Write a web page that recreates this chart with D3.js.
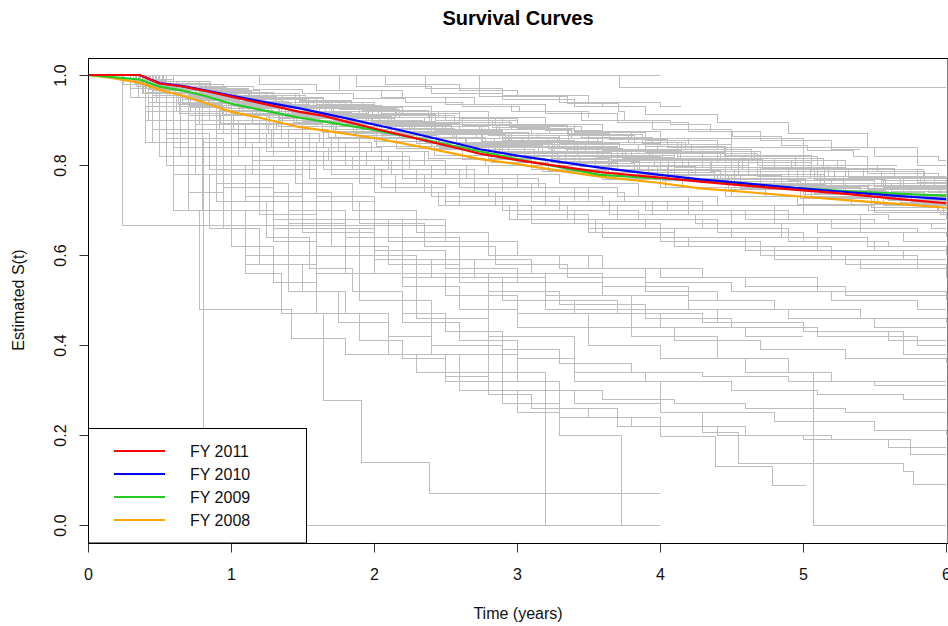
<!DOCTYPE html>
<html>
<head>
<meta charset="utf-8">
<script src="https://cdn.jsdelivr.net/npm/d3@7"></script>
<style>
  body { margin: 0; background: #fff; }
  svg { font-family: 'Liberation Sans', Arial, sans-serif; }
</style>
</head>
<body>
<div id="chart"></div>
<script>
// ---- data: survival estimates [time (years), S(t)] ----
const upperCurves = [
  [[0,1],[0.38,.985],[0.62,.97],[0.95,.955],[1.3,.94],[1.7,.925],[2.15,.905],[2.6,.89],[3.1,.87],[3.6,.85],[4.15,.83],[4.7,.81],[5.3,.79],[5.8,.775],[6,.775]],
  [[0,1],[0.42,.98],[0.7,.962],[1.05,.945],[1.45,.925],[1.9,.905],[2.35,.885],[2.8,.865],[3.3,.845],[3.85,.825],[4.4,.805],[5.0,.785],[5.55,.765],[6,.765]],
  [[0,1],[0.35,.99],[0.55,.975],[0.9,.96],[1.25,.948],[1.65,.932],[2.05,.915],[2.5,.9],[2.95,.885],[3.45,.862],[3.95,.845],[4.5,.82],[5.1,.8]],
  [[0,1],[0.48,.978],[0.75,.958],[1.1,.94],[1.5,.918],[1.95,.895],[2.4,.875],[2.9,.852],[3.4,.83],[3.95,.81],[4.55,.79],[5.15,.77],[5.7,.745],[6,.745]],
  [[0,1],[0.4,.975],[0.65,.955],[1.0,.935],[1.35,.915],[1.8,.892],[2.25,.87],[2.75,.848],[3.25,.826],[3.8,.805],[4.35,.785],[4.9,.765],[5.5,.745],[6,.74]],
  [[0,1],[0.5,.982],[0.85,.965],[1.2,.95],[1.6,.935],[2.0,.92],[2.45,.905],[2.9,.89],[3.4,.872],[3.9,.855],[4.4,.835],[4.6,.835]],
  [[0,1],[0.44,.972],[0.72,.95],[1.02,.93],[1.38,.908],[1.78,.885],[2.2,.862],[2.65,.84],[3.15,.818],[3.7,.796],[4.25,.776],[4.85,.755],[5.45,.735],[6,.725]],
  [[0,1],[0.36,.978],[0.6,.958],[0.92,.938],[1.28,.915],[1.7,.89],[2.12,.868],[2.58,.845],[3.05,.822],[3.55,.8],[4.1,.778],[4.7,.758],[5.3,.738],[5.85,.72],[6,.72]],
  [[0,1],[0.46,.985],[0.78,.97],[1.12,.955],[1.52,.94],[1.92,.922],[2.38,.905],[2.85,.888],[3.35,.868],[3.88,.848],[4.0,.848]],
  [[0,1],[0.41,.97],[0.68,.948],[0.98,.926],[1.34,.903],[1.74,.88],[2.18,.858],[2.64,.835],[3.12,.812],[3.64,.79],[4.2,.77],[4.8,.75],[5.4,.73],[6,.71]],
  [[0,1],[0.52,.975],[0.82,.955],[1.15,.935],[1.55,.912],[1.98,.89],[2.42,.868],[2.92,.845],[3.42,.822],[3.96,.8],[4.55,.778],[5.15,.755],[5.75,.735],[6,.735]],
  [[0,1],[0.33,.982],[0.58,.965],[0.88,.948],[1.22,.93],[1.62,.91],[2.04,.89],[2.48,.87],[2.96,.85],[3.48,.83],[4.02,.81],[4.62,.79],[5.22,.77],[5.82,.755],[6,.755]],
  [[0,1],[0.45,.968],[0.74,.944],[1.06,.92],[1.44,.895],[1.86,.87],[2.3,.848],[2.78,.825],[3.28,.804],[3.82,.784],[4.38,.764],[4.98,.744],[5.58,.724],[6,.705]],
  [[0,1],[0.39,.98],[0.66,.962],[1.0,.942],[1.4,.92],[1.82,.898],[2.26,.878],[2.72,.858],[3.22,.836],[3.74,.815],[4.3,.795],[4.9,.775],[5.5,.758],[6,.75]],
  [[0,1],[0.55,.972],[0.88,.95],[1.24,.928],[1.66,.905],[2.1,.882],[2.56,.86],[3.04,.838],[3.56,.816],[4.1,.795],[4.68,.775],[5.28,.755],[5.88,.738],[6,.738]],
  [[0,1],[0.3,.99],[0.52,.978],[0.8,.963],[1.14,.947],[1.54,.93],[1.96,.912],[2.4,.895],[2.88,.878],[3.38,.86],[3.9,.842],[4.46,.822],[5.06,.8],[5.66,.8]],
  [[0,1],[0.47,.965],[0.76,.94],[1.08,.915],[1.46,.89],[1.88,.865],[2.32,.842],[2.8,.82],[3.3,.8],[3.84,.78],[4.4,.76],[5.0,.742],[5.6,.722],[6,.71]],
  [[0,1],[0.43,.977],[0.71,.957],[1.04,.937],[1.42,.916],[1.84,.894],[2.28,.873],[2.76,.852],[3.26,.831],[3.8,.81],[4.36,.79],[4.96,.77],[5.56,.75],[6,.73]],
  [[0,1],[0.37,.985],[0.63,.968],[0.96,.95],[1.32,.932],[1.72,.912],[2.14,.892],[2.6,.872],[3.08,.852],[3.6,.832],[4.14,.812],[4.72,.792],[5.32,.772],[5.92,.76],[6,.76]],
  [[0,1],[0.5,.97],[0.8,.945],[1.13,.92],[1.5,.896],[1.92,.872],[2.36,.85],[2.84,.828],[3.34,.807],[3.86,.787],[4.42,.767],[5.02,.748],[5.62,.73],[6,.72]],
  [[0,1],[0.34,.975],[0.57,.955],[0.87,.933],[1.2,.91],[1.6,.886],[2.02,.862],[2.46,.84],[2.94,.818],[3.44,.797],[3.98,.777],[4.56,.757],[5.16,.737],[5.76,.718],[6,.7]],
  [[0,1],[0.49,.98],[0.79,.963],[1.13,.946],[1.53,.928],[1.95,.91],[2.39,.89],[2.86,.87],[3.36,.85],[3.9,.828],[4.46,.806],[5.06,.785],[5.36,.785]],
  [[0,1],[0.4,.962],[0.66,.936],[0.97,.91],[1.33,.885],[1.73,.86],[2.16,.836],[2.62,.813],[3.1,.79],[3.62,.77],[4.16,.75],[4.74,.73],[5.34,.712],[5.94,.695],[6,.695]],
  [[0,1],[0.44,.985],[0.7,.97],[1.0,.955],[1.36,.94],[1.76,.923],[2.18,.906],[2.62,.888],[3.1,.87],[3.6,.85],[4.12,.83],[4.66,.81],[5.24,.79],[5.84,.77],[6,.77]],
  [[0,1],[0.53,.965],[0.84,.94],[1.18,.915],[1.58,.89],[2.0,.866],[2.44,.843],[2.9,.82],[3.4,.798],[3.92,.777],[4.48,.756],[5.08,.736],[5.68,.716],[6,.705]],
  [[0,1],[0.32,.988],[0.54,.972],[0.84,.955],[1.18,.938],[1.58,.918],[1.99,.897],[2.43,.876],[2.9,.855],[3.4,.834],[3.93,.812],[4.5,.79],[5.1,.77],[5.7,.75],[6,.745]]
]

const denseCurves = [
  [[0,1],[0.4,.98],[0.7,.965],[1.0,.95],[1.35,.93],[1.7,.92],[2.05,.905],[2.4,.89],[2.75,.878],[3.1,.865],[3.5,.85],[3.9,.835],[4.3,.815],[4.8,.795],[5.3,.775],[5.8,.762],[6,.762]],
  [[0,1],[0.45,.975],[0.72,.958],[1.02,.94],[1.4,.918],[1.75,.9],[2.1,.886],[2.5,.87],[2.9,.855],[3.3,.84],[3.7,.822],[4.1,.806],[4.55,.785],[5.0,.77],[5.5,.752],[5.95,.74],[6,.74]],
  [[0,1],[0.36,.99],[0.6,.978],[0.95,.962],[1.3,.95],[1.65,.94],[2.0,.93],[2.4,.918],[2.8,.905],[3.2,.89],[3.6,.875],[4.0,.86],[4.5,.84],[5.0,.82]],
  [[0,1],[0.5,.965],[0.78,.948],[1.05,.928],[1.4,.91],[1.8,.892],[2.15,.875],[2.55,.86],[2.95,.842],[3.35,.826],[3.8,.81],[4.2,.795],[4.7,.77],[5.2,.748],[5.7,.73],[6,.72]],
  [[0,1],[0.42,.97],[0.66,.945],[0.98,.922],[1.3,.905],[1.7,.885],[2.05,.868],[2.45,.85],[2.85,.83],[3.25,.814],[3.65,.797],[4.05,.78],[4.5,.758],[5.0,.735],[5.5,.715],[5.95,.7],[6,.7]],
  [[0,1],[0.38,.982],[0.64,.968],[0.97,.952],[1.32,.94],[1.68,.928],[2.02,.918],[2.4,.905],[2.8,.89],[3.2,.876],[3.6,.86],[4.0,.842],[4.45,.822],[4.95,.8],[5.45,.782],[5.95,.77],[6,.77]],
  [[0,1],[0.47,.972],[0.74,.955],[1.04,.938],[1.4,.92],[1.76,.908],[2.12,.895],[2.5,.88],[2.9,.865],[3.3,.85],[3.72,.835],[4.12,.818],[4.58,.795],[5.08,.77],[5.58,.748],[6,.73]],
  [[0,1],[0.4,.96],[0.63,.935],[0.94,.912],[1.27,.893],[1.64,.872],[2.0,.852],[2.4,.835],[2.8,.815],[3.2,.8],[3.62,.783],[4.02,.765],[4.48,.745],[4.98,.725],[5.48,.705],[5.98,.69],[6,.69]],
  [[0,1],[0.52,.98],[0.83,.968],[1.12,.958],[1.48,.943],[1.84,.93],[2.2,.918],[2.6,.903],[3.0,.89],[3.4,.875],[3.8,.86],[4.2,.845],[4.5,.845]],
  [[0,1],[0.44,.972],[0.7,.952],[1.0,.932],[1.35,.915],[1.72,.9],[2.08,.888],[2.48,.872],[2.88,.858],[3.28,.842],[3.7,.826],[4.1,.81],[4.55,.79],[5.05,.77],[5.55,.752],[6,.74]],
  [[0,1],[0.48,.955],[0.72,.928],[1.0,.9],[1.32,.88],[1.68,.862],[2.02,.842],[2.42,.822],[2.82,.805],[3.22,.788],[3.64,.77],[4.04,.75],[4.5,.73],[5.0,.71],[5.5,.695],[6,.68]],
  [[0,1],[0.34,.985],[0.58,.968],[0.9,.95],[1.24,.93],[1.6,.915],[1.96,.9],[2.34,.885],[2.74,.87],[3.14,.858],[3.56,.845],[3.98,.83],[4.42,.81],[4.92,.79],[5.42,.77],[5.92,.75],[6,.75]],
  [[0,1],[0.46,.962],[0.7,.94],[1.0,.92],[1.34,.9],[1.7,.88],[2.06,.86],[2.44,.842],[2.84,.822],[3.24,.806],[3.66,.788],[4.06,.77],[4.52,.75],[5.02,.73],[5.52,.712],[6,.7]],
  [[0,1],[0.55,.985],[0.86,.975],[1.16,.968],[1.5,.958],[1.86,.948],[2.22,.94],[2.62,.93],[3.02,.918],[3.5,.905]],
  [[0,1],[0.43,.968],[0.68,.95],[0.99,.94],[1.33,.915],[1.7,.895],[2.04,.88],[2.44,.86],[2.84,.842],[3.24,.828],[3.66,.81],[4.06,.79],[4.52,.77],[5.02,.748],[5.52,.728],[6,.71]],
  [[0,1],[0.37,.975],[0.61,.955],[0.93,.932],[1.26,.912],[1.62,.895],[1.98,.875],[2.38,.858],[2.78,.843],[3.18,.83],[3.6,.812],[4.0,.79],[4.46,.77],[4.96,.752],[5.46,.735],[5.96,.72],[6,.72]],
  [[0,1],[0.5,.978],[0.8,.965],[1.1,.958],[1.45,.94],[1.8,.925],[2.16,.91],[2.56,.895],[2.96,.878],[3.36,.865],[3.78,.85],[4.18,.835],[4.64,.815],[5.14,.792],[5.64,.772],[6,.76]],
  [[0,1],[0.45,.955],[0.7,.932],[1.0,.91],[1.36,.89],[1.72,.875],[2.08,.858],[2.48,.84],[2.88,.822],[3.28,.805],[3.7,.787],[4.1,.768],[4.56,.748],[5.06,.728],[5.56,.71],[6,.7]],
  [[0,1],[0.41,.985],[0.66,.972],[0.97,.955],[1.31,.94],[1.67,.925],[2.03,.912],[2.43,.898],[2.83,.884],[3.23,.87],[3.65,.856],[4.05,.84],[4.5,.82],[5.0,.8],[5.5,.8]],
  [[0,1],[0.49,.968],[0.76,.952],[1.06,.937],[1.42,.918],[1.78,.903],[2.14,.888],[2.54,.87],[2.94,.85],[3.34,.835],[3.76,.815],[4.16,.8],[4.62,.78],[5.12,.76],[5.62,.742],[6,.73]],
  [[0,1],[0.39,.96],[0.62,.94],[0.92,.922],[1.26,.905],[1.62,.89],[1.98,.878],[2.38,.862],[2.78,.85],[3.18,.838],[3.6,.82],[4.0,.8],[4.46,.78],[4.96,.76],[5.46,.745],[5.96,.73],[6,.73]],
  [[0,1],[0.42,.94],[0.64,.915],[0.93,.892],[1.26,.87],[1.62,.85],[1.98,.83],[2.38,.815],[2.78,.8],[3.18,.785],[3.6,.768],[4.0,.75],[4.46,.73],[4.96,.712],[5.46,.7],[5.96,.69],[6,.69]],
  [[0,1],[0.53,.982],[0.82,.968],[1.12,.958],[1.48,.942],[1.84,.928],[2.2,.915],[2.6,.9],[3.0,.882],[3.4,.865],[3.82,.845],[4.22,.825],[4.68,.8],[5.18,.775],[5.68,.755],[6,.75]],
  [[0,1],[0.46,.965],[0.72,.948],[1.02,.93],[1.38,.918],[1.74,.905],[2.1,.895],[2.5,.878],[2.9,.862],[3.3,.847],[3.72,.83],[4.12,.812],[4.58,.79],[5.08,.768],[5.58,.75],[6,.74]]
]

const midCurves = [
  [[0,1],[0.45,.95],[0.7,.91],[1.0,.88],[1.4,.84],[1.8,.8],[2.2,.77],[2.7,.74],[3.2,.71],[3.7,.68],[4.3,.66],[4.9,.63],[5.5,.61],[6,.6]],
  [[0,1],[0.4,.96],[0.65,.93],[0.95,.9],[1.3,.86],[1.7,.82],[2.1,.79],[2.6,.76],[3.1,.73],[3.6,.71],[4.2,.69],[4.8,.67],[5.4,.65],[6,.64]],
  [[0,1],[0.5,.93],[0.8,.88],[1.1,.84],[1.5,.8],[1.9,.76],[2.4,.73],[2.9,.7],[3.4,.67],[4.0,.64],[4.6,.62],[5.2,.6],[5.8,.58],[6,.58]],
  [[0,1],[0.45,.94],[0.75,.9],[1.05,.86],[1.45,.82],[1.85,.79],[2.3,.76],[2.8,.73],[3.3,.7],[3.85,.68],[4.4,.65],[5.0,.63],[5.6,.62],[6,.62]],
  [[0,1],[0.35,.97],[0.6,.94],[0.9,.91],[1.25,.88],[1.65,.84],[2.05,.81],[2.5,.78],[3.0,.75],[3.5,.72],[4.05,.7],[4.6,.68],[5.2,.66],[5.8,.65],[6,.65]],
  [[0,1],[0.5,.95],[0.85,.9],[1.2,.85],[1.6,.8],[2.0,.76],[2.5,.72],[3.0,.69],[3.5,.66],[4.1,.63],[4.7,.6],[5.3,.58],[6,.56]],
  [[0,1],[0.42,.95],[0.72,.92],[1.02,.88],[1.4,.85],[1.8,.82],[2.25,.79],[2.7,.76],[3.2,.74],[3.75,.72],[4.3,.7],[4.9,.68],[5.5,.67],[6,.67]],
  [[0,1],[0.55,.92],[0.9,.87],[1.25,.83],[1.65,.79],[2.05,.75],[2.5,.71],[3.0,.68],[3.55,.65],[4.1,.62],[4.7,.6],[5.2,.6]],
  [[0,1],[0.3,.97],[0.55,.93],[0.85,.9],[1.2,.87],[1.55,.83],[1.95,.8],[2.4,.77],[2.9,.75],[3.4,.72],[3.9,.7],[4.5,.67],[5.1,.65],[5.7,.63],[6,.63]],
  [[0,1],[0.48,.94],[0.78,.89],[1.1,.85],[1.5,.81],[1.9,.78],[2.35,.74],[2.85,.71],[3.35,.68],[3.9,.66],[4.5,.64],[5.1,.61],[5.7,.59],[6,.59]],
  [[0,1],[0.4,.96],[0.7,.92],[1.0,.89],[1.35,.86],[1.75,.83],[2.2,.8],[2.65,.77],[3.15,.75],[3.7,.73],[4.2,.71],[4.8,.69],[5.4,.67],[5.9,.66],[6,.66]],
  [[0,1],[0.5,.9],[0.8,.85],[1.15,.81],[1.55,.77],[2.0,.74],[2.45,.71],[2.95,.68],[3.5,.65],[4.0,.63],[4.6,.61],[5.2,.59],[5.8,.57],[6,.57]],
  [[0,1],[0.45,.93],[0.75,.89],[1.1,.86],[1.5,.83],[1.9,.8],[2.4,.77],[2.9,.74],[3.4,.72],[3.95,.69],[4.5,.67],[4.8,.67]],
  [[0,1],[0.38,.96],[0.62,.92],[0.92,.88],[1.28,.84],[1.68,.81],[2.12,.78],[2.6,.75],[3.1,.72],[3.65,.69],[4.25,.67],[4.85,.64],[5.45,.62],[6,.61]],
  [[0,1],[0.6,.92],[0.95,.87],[1.3,.82],[1.7,.78],[2.15,.74],[2.6,.71],[3.1,.67],[3.6,.64],[4.2,.62],[4.8,.59],[5.4,.57],[6,.55]],
  [[0,1],[0.25,.98],[0.5,.95],[0.8,.92],[1.15,.89],[1.5,.86],[1.9,.83],[2.35,.8],[2.8,.78],[3.3,.76],[3.85,.73],[4.4,.71],[5.0,.69],[5.6,.68],[6,.68]]
]

const lowCurves = [
  [[0,1],[0.45,.9],[0.7,.82],[1.0,.76],[1.4,.7],[1.8,.64],[2.2,.59],[2.7,.55],[3.2,.51],[3.8,.48],[4.4,.45],[5.0,.43],[5.6,.41],[6,.41]],
  [[0,1],[0.5,.88],[0.8,.8],[1.1,.73],[1.5,.66],[1.9,.6],[2.3,.56],[2.8,.52],[3.3,.49],[3.9,.46],[4.5,.44],[5.1,.42],[5.8,.4],[6,.4]],
  [[0,1],[0.4,.93],[0.65,.86],[0.95,.8],[1.3,.74],[1.7,.68],[2.1,.63],[2.6,.59],[3.1,.56],[3.6,.53],[4.2,.5],[4.8,.48],[5.4,.46],[6,.45]],
  [[0,1],[0.55,.86],[0.9,.76],[1.2,.69],[1.6,.62],[2.0,.56],[2.5,.51],[3.0,.47],[3.5,.44],[4.1,.41],[4.7,.39],[5.3,.37],[6,.36]],
  [[0,1],[0.45,.94],[0.75,.88],[1.05,.82],[1.45,.76],[1.85,.7],[2.3,.65],[2.8,.6],[3.3,.57],[3.9,.54],[4.5,.52],[5.2,.5],[5.8,.48],[6,.48]],
  [[0,1],[0.35,.95],[0.6,.9],[0.9,.84],[1.2,.79],[1.6,.73],[2.0,.68],[2.5,.63],[3.0,.6],[3.5,.57],[4.0,.55],[4.6,.53],[5.3,.51],[6,.51]],
  [[0,1],[0.5,.9],[0.75,.8],[1.1,.72],[1.5,.65],[2.0,.59],[2.4,.55],[2.9,.5],[3.4,.47],[4.0,.44],[4.6,.42],[5.0,.42]],
  [[0,1],[0.6,.84],[0.95,.75],[1.3,.68],[1.7,.62],[2.1,.58],[2.6,.54],[3.2,.5],[3.7,.47],[4.3,.45],[5.0,.43],[5.7,.38],[6,.38]],
  [[0,1],[0.45,.92],[0.8,.85],[1.15,.78],[1.5,.72],[1.9,.67],[2.35,.62],[2.85,.58],[3.35,.55],[3.9,.52],[4.4,.5],[4.6,.5]],
  [[0,1],[0.3,.95],[0.55,.87],[0.85,.79],[1.2,.72],[1.6,.66],[2.0,.61],[2.5,.57],[3.0,.54],[3.6,.51],[4.2,.48],[4.9,.46],[5.5,.44],[6,.44]]
]

const bottomCurves = [
  [[0,1],[0.4,.9],[0.55,.8],[0.8,.7],[1.0,.62],[1.3,.54],[1.6,.47],[1.9,.41],[2.2,.37],[2.5,.33],[2.8,.29],[3.1,.26],[3.5,.24],[4.0,.22],[4.6,.2],[5.2,.19],[5.75,.156],[6,.156]],
  [[0,1],[0.45,.85],[0.7,.74],[0.95,.66],[1.2,.58],[1.5,.52],[1.8,.47],[2.1,.42],[2.4,.38],[2.8,.34],[3.2,.3],[3.6,.28],[4.1,.27],[4.6,.26],[5.3,.25],[6,.25]],
  [[0,1],[0.5,.88],[0.75,.78],[1.0,.7],[1.3,.63],[1.6,.56],[1.9,.5],[2.2,.45],[2.6,.41],[3.0,.37],[3.4,.34],[3.9,.32],[4.5,.3],[5.1,.29],[5.7,.28],[6,.28]],
  [[0,1],[0.42,.9],[0.65,.82],[0.95,.72],[1.25,.64],[1.55,.57],[1.85,.52],[2.2,.47],[2.5,.43],[2.9,.39],[3.3,.36],[3.8,.34],[4.3,.33],[4.9,.32],[5.5,.31],[6,.31]],
  [[0,1],[0.5,.82],[0.8,.7],[1.1,.6],[1.4,.52],[1.75,.45],[2.1,.38],[2.5,.32],[2.9,.27],[3.3,.24],[3.8,.22],[4.4,.2],[5.0,.19],[5.6,.173],[6,.173]],
  [[0,1],[0.45,.92],[0.7,.84],[1.0,.76],[1.4,.67],[1.8,.6],[2.2,.53],[2.6,.48],[3.0,.44],[3.5,.4],[4.0,.37],[4.6,.34],[5.2,.32],[6,.32]]
]

const tracedCurves = [
  [[0,1],[0.42,.93],[0.55,.86],[0.81,0],[4,0]],
  [[0,1],[0.24,.665],[2.05,.665],[2.5,.63],[3.0,.6],[3.6,.57],[4.3,.55],[5.1,.52],[6,.5]],
  [[0,1],[0.4,.9],[0.6,.78],[0.85,.66],[1.1,.56],[1.35,.47],[1.65,.418],[1.65,.276],[1.91,.138],[2.39,.071],[4,.071]],
  [[0,1],[0.45,.9],[0.8,.78],[1.3,.66],[1.8,.56],[2.3,.46],[2.8,.38],[3.0,.32],[3.2,0],[4,0]],
  [[0,1],[0.4,.85],[0.7,.7],[1.1,.58],[1.6,.47],[2.1,.38],[2.6,.3],[3.0,.25],[3.3,.2],[3.73,0],[4,0]],
  [[0,1],[0.45,.88],[0.9,.72],[1.4,.6],[1.9,.5],[2.4,.4],[2.9,.32],[3.3,.26],[3.7,.22],[4.0,.196],[4.39,.131],[4.79,.088],[5.02,.088]],
  [[0,1],[0.5,.9],[1.0,.8],[1.6,.68],[2.2,.55],[2.8,.42],[3.4,.32],[4.0,.25],[4.3,.205],[4.55,.137],[5.7,.118],[5.77,.09],[6,.09]],
  [[0,1],[0.4,.92],[0.9,.82],[1.5,.72],[2.0,.64],[2.6,.56],[3.2,.48],[3.8,.42],[4.4,.37],[4.9,.34],[5.07,0],[6,0]],
  [[0,1],[0.45,.85],[0.6,.7],[0.78,.478],[1.42,.415],[1.8,.38],[2.3,.34],[2.8,.3],[3.4,.27],[4.0,.25],[4.8,.23],[5.5,.21],[6,.2]],
  [[0,1],[2.74,.953],[3.35,.936],[3.71,.918],[3.755,.9],[4.07,.89],[4.35,.875],[4.51,.863],[4.85,.844],[5.03,.833],[5.35,.82],[5.45,.8],[5.52,.785],[5.85,.752],[6,.752]],
  [[0,1],[3.72,.973],[6,.973]],
  [[0,1],[4,1]],
  [[0,1],[1.76,.965],[2.2,.95],[2.7,.935],[3.2,.915],[3.7,.895],[4.2,.875],[4.7,.855],[5.2,.835],[5.4,.835]],
  [[0,1],[1.88,.975],[2.4,.96],[2.9,.945],[3.4,.93],[3.9,.912],[4.4,.895],[4.9,.87],[5.45,.84],[5.8,.8],[6,.8]],
  [[0,1],[2.08,.98],[2.6,.965],[3.0,.955],[3.3,.94],[3.6,.93],[3.8,.93]],
  [[0,1],[2.36,.97],[2.9,.955],[3.5,.94],[4.0,.93],[4.15,.93]],
  [[0,1],[1.2,.98],[1.6,.965],[2.05,.95],[2.5,.935],[2.96,.92],[3.45,.9],[3.95,.88],[4.5,.86],[5.0,.84],[5.5,.82],[5.95,.81],[6,.81]]
]

// fiscal-year curves
const fyLabels = ['FY 2011', 'FY 2010', 'FY 2009', 'FY 2008']
const fyColors = ['#ff0000', '#0000ff', '#22cc22', '#ffa500']
const fy2011 = [[0,1],[0.36,1],[0.5,.981],[0.65,.975],[0.8,.966],[1.0,.952],[1.2,.938],[1.48,.918],[1.62,.911],[1.8,.897],[2.0,.881],[2.2,.866],[2.4,.851],[2.6,.836],[2.74,.825],[3.0,.811],[3.3,.797],[3.58,.784],[3.72,.78],[4.0,.772],[4.28,.763],[4.6,.754],[4.98,.744],[5.3,.736],[5.68,.724],[6,.715]]
const fy2010 = [[0,1],[0.36,1],[0.5,.982],[0.65,.976],[0.8,.967],[1.0,.954],[1.2,.942],[1.48,.926],[1.8,.904],[2.0,.89],[2.2,.876],[2.4,.861],[2.6,.846],[2.74,.835],[3.0,.821],[3.3,.807],[3.58,.794],[4.0,.778],[4.28,.768],[4.6,.759],[4.98,.748],[5.3,.74],[5.68,.731],[6,.724]]
const fy2009 = [[0,1],[0.15,.996],[0.36,.99],[0.5,.974],[0.65,.966],[0.8,.955],[1.0,.936],[1.2,.923],[1.48,.905],[1.62,.898],[2.0,.878],[2.4,.853],[2.74,.83],[3.0,.813],[3.3,.795],[3.58,.778],[4.0,.77],[4.28,.765],[4.6,.757],[4.98,.748],[5.3,.742],[5.68,.736],[6,.732]]
const fy2008 = [[0,1],[0.15,.994],[0.36,.983],[0.5,.967],[0.65,.955],[0.8,.94],[1.0,.918],[1.2,.905],[1.48,.884],[1.62,.878],[2.0,.86],[2.4,.836],[2.74,.813],[3.0,.802],[3.3,.787],[3.58,.774],[4.0,.76],[4.28,.748],[4.6,.74],[4.98,.73],[5.3,.722],[5.68,.713],[6,.705]]

const xTicks = [0, 1, 2, 3, 4, 5, 6]
const yTicks = [0, 0.2, 0.4, 0.6, 0.8, 1.0]

// ---- layout ----
const W = 948, H = 626
const box = { left: 88, top: 58, right: 947.5, bottom: 543 }

const svg = d3.select('#chart').append('svg').attr('width', W).attr('height', H)

const x = d3.scaleLinear().domain([0, 6]).range([88, 946])
const y = d3.scaleLinear().domain([0, 1]).range([525, 75])

svg.append('clipPath').attr('id', 'plotclip')
  .append('rect')
  .attr('x', box.left).attr('y', box.top)
  .attr('width', box.right - box.left).attr('height', box.bottom - box.top)

const plot = svg.append('g').attr('clip-path', 'url(#plotclip)')

const stepLine = d3.line().x((d) => x(d[0])).y((d) => y(d[1])).curve(d3.curveStepAfter)
const smoothLine = d3.line().x((d) => x(d[0])).y((d) => y(d[1]))

const greys = [].concat(upperCurves, denseCurves, midCurves, lowCurves, bottomCurves, tracedCurves)
plot.append('g')
  .selectAll('path')
  .data(greys)
  .enter()
  .append('path')
  .attr('d', stepLine)
  .attr('fill', 'none')
  .attr('stroke', '#bebebe')
  .attr('stroke-width', 1)
  .attr('shape-rendering', 'crispEdges')

// coloured curves, 2008 first so 2011 ends on top
const fySeries = [fy2011, fy2010, fy2009, fy2008]
plot.append('g')
  .selectAll('path')
  .data(fySeries.map((d, i) => ({ d, i })).reverse())
  .enter()
  .append('path')
  .attr('d', (o) => smoothLine(o.d))
  .attr('fill', 'none')
  .attr('stroke', (o) => fyColors[o.i])
  .attr('stroke-width', 2.2)

// legend
const legend = svg.append('g')
legend.append('rect')
  .attr('x', 88.5).attr('y', 428.5)
  .attr('width', 218).attr('height', 114.5)
  .attr('fill', '#fff').attr('stroke', '#000').attr('stroke-width', 1)
fyLabels.forEach((label, i) => {
  const ly = 451 + i * 23
  legend.append('line')
    .attr('x1', 114).attr('x2', 165).attr('y1', ly).attr('y2', ly)
    .attr('stroke', fyColors[i]).attr('stroke-width', 2.2)
  legend.append('text')
    .attr('x', 190).attr('y', ly + 6)
    .attr('font-size', 16).attr('fill', '#111')
    .text(label)
})

// plot frame
svg.append('rect')
  .attr('x', box.left + 0.5).attr('y', box.top + 0.5)
  .attr('width', box.right - box.left).attr('height', box.bottom - box.top)
  .attr('fill', 'none').attr('stroke', '#000').attr('stroke-width', 1)

// axes
const xAxis = svg.append('g')
  .attr('transform', `translate(0, ${box.bottom + 0.5})`)
  .call(d3.axisBottom(x).tickValues(xTicks).tickFormat(d3.format('d')).tickSize(9).tickSizeOuter(0).tickPadding(16))
xAxis.select('.domain').remove()
xAxis.selectAll('text').attr('font-size', 16).attr('fill', '#111').attr('font-family', null)
xAxis.selectAll('line').attr('stroke', '#333')

const yAxis = svg.append('g')
  .attr('transform', `translate(${box.left + 0.5}, 0)`)
  .call(d3.axisLeft(y).tickValues(yTicks).tickFormat(d3.format('.1f')).tickSize(9).tickSizeOuter(0))
yAxis.select('.domain').remove()
yAxis.selectAll('line').attr('stroke', '#333')
yAxis.selectAll('text')
  .attr('x', 0).attr('y', 0).attr('dy', null)
  .attr('transform', 'translate(-23, 0) rotate(-90)')
  .attr('text-anchor', 'middle')
  .attr('font-size', 16).attr('fill', '#111').attr('font-family', null)

// titles
svg.append('text')
  .attr('x', 518).attr('y', 25)
  .attr('text-anchor', 'middle')
  .attr('font-size', 20).attr('font-weight', 'bold')
  .text('Survival Curves')

svg.append('text')
  .attr('x', 518).attr('y', 619)
  .attr('text-anchor', 'middle')
  .attr('font-size', 16).attr('fill', '#111')
  .text('Time (years)')

svg.append('text')
  .attr('transform', 'translate(24, 300) rotate(-90)')
  .attr('text-anchor', 'middle')
  .attr('font-size', 16).attr('fill', '#111')
  .text('Estimated S(t)')
</script>
</body>
</html>
